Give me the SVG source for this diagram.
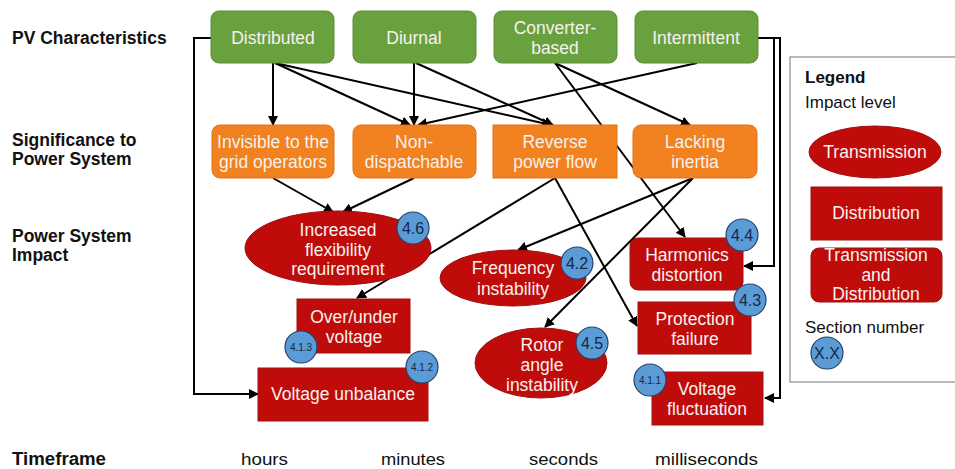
<svg xmlns="http://www.w3.org/2000/svg" width="955" height="469" viewBox="0 0 955 469">
  <defs>
    <marker id="arrow" viewBox="0 0 10 10" refX="9" refY="5" markerWidth="10" markerHeight="10" markerUnits="userSpaceOnUse" orient="auto">
      <path d="M0,0 L10,5 L0,10 z" fill="#000"/>
    </marker>
  </defs>
  <style>
    text { font-family: "Liberation Sans", Arial, sans-serif; }
    .row { font-size: 17.5px; font-weight: bold; fill: #111; }
    .time { font-size: 17px; fill: #111; }
    .nt { font-size: 17.5px; fill: #f6f2ee; text-anchor: middle; }
    .pv { fill: #6aa13f; stroke: #5b8f35; stroke-width: 1; }
    .sig { fill: #f2811f; stroke: #e07316; stroke-width: 1; }
    .imp { fill: #c00b0b; stroke: #a01010; stroke-width: 1; }
    .badge { fill: #5b9bd6; stroke: #23456e; stroke-width: 1.2; }
    .bt { fill: #16284a; text-anchor: middle; }
    .conn { fill: none; stroke: #000; stroke-width: 2; }
    .leg { font-size: 17px; fill: #111; }
  </style>

  <!-- row captions -->
  <g id="captions">
    <text class="row" x="12" y="44">PV Characteristics</text>
    <text class="row" x="12" y="146">Significance to</text>
    <text class="row" x="12" y="165">Power System</text>
    <text class="row" x="12" y="242">Power System</text>
    <text class="row" x="12" y="261">Impact</text>
    <text class="row" x="12" y="465" textLength="94" lengthAdjust="spacingAndGlyphs">Timeframe</text>
    <text class="time" x="241" y="465" textLength="47" lengthAdjust="spacingAndGlyphs">hours</text>
    <text class="time" x="381" y="465" textLength="64" lengthAdjust="spacingAndGlyphs">minutes</text>
    <text class="time" x="529" y="465" textLength="69" lengthAdjust="spacingAndGlyphs">seconds</text>
    <text class="time" x="655" y="465" textLength="103" lengthAdjust="spacingAndGlyphs">milliseconds</text>
  </g>

  <!-- connectors (drawn beneath the nodes) -->
  <g id="connectors" class="conn">
    <line x1="273" y1="63" x2="273" y2="125" marker-end="url(#arrow)"/>
    <line x1="275" y1="63" x2="410" y2="125" marker-end="url(#arrow)"/>
    <line x1="275" y1="63" x2="551" y2="125" marker-end="url(#arrow)"/>
    <line x1="414" y1="63" x2="414" y2="125" marker-end="url(#arrow)"/>
    <line x1="416" y1="63" x2="553" y2="125" marker-end="url(#arrow)"/>
    <line x1="697" y1="63" x2="418" y2="125" marker-end="url(#arrow)"/>
    <line x1="555" y1="63" x2="690" y2="125" marker-end="url(#arrow)"/>
    <line x1="555" y1="63" x2="685" y2="237" marker-end="url(#arrow)"/>
    <line x1="273" y1="178" x2="333" y2="212" marker-end="url(#arrow)"/>
    <line x1="414" y1="178" x2="343" y2="212" marker-end="url(#arrow)"/>
    <line x1="555" y1="178" x2="357" y2="298" marker-end="url(#arrow)"/>
    <line x1="555" y1="178" x2="637" y2="326" marker-end="url(#arrow)"/>
    <line x1="693" y1="178" x2="518" y2="250" marker-end="url(#arrow)"/>
    <line x1="693" y1="178" x2="545" y2="327" marker-end="url(#arrow)"/>
    <polyline points="211,38 194,38 194,394 258,394" marker-end="url(#arrow)"/>
    <polyline points="758,38 774,38 774,266 744,266" marker-end="url(#arrow)"/>
    <polyline points="758,38 780,38 780,398 765,398" marker-end="url(#arrow)"/>
  </g>

  <!-- PV characteristics -->
  <g id="distributed">
    <rect class="pv" x="211" y="11" width="123" height="52" rx="8"/>
    <text class="nt" x="273" y="44">Distributed</text>
  </g>
  <g id="diurnal">
    <rect class="pv" x="353" y="11" width="123" height="52" rx="8"/>
    <text class="nt" x="414" y="44">Diurnal</text>
  </g>
  <g id="converter-based">
    <rect class="pv" x="494" y="11" width="123" height="52" rx="8"/>
    <text class="nt" x="555" y="34">Converter-</text>
    <text class="nt" x="555" y="54">based</text>
  </g>
  <g id="intermittent">
    <rect class="pv" x="635" y="11" width="123" height="52" rx="8"/>
    <text class="nt" x="696" y="44">Intermittent</text>
  </g>

  <!-- significance to power system -->
  <g id="invisible">
    <rect class="sig" x="212" y="125" width="122" height="53" rx="8"/>
    <text class="nt" x="273" y="148">Invisible to the</text>
    <text class="nt" x="273" y="168">grid operators</text>
  </g>
  <g id="non-dispatchable">
    <rect class="sig" x="353" y="125" width="123" height="53" rx="8"/>
    <text class="nt" x="414" y="148">Non-</text>
    <text class="nt" x="414" y="168">dispatchable</text>
  </g>
  <g id="reverse-power-flow">
    <rect class="sig" x="493" y="125" width="124" height="53"/>
    <text class="nt" x="555" y="148">Reverse</text>
    <text class="nt" x="555" y="168">power flow</text>
  </g>
  <g id="lacking-inertia">
    <rect class="sig" x="633" y="125" width="124" height="53" rx="8"/>
    <text class="nt" x="695" y="148">Lacking</text>
    <text class="nt" x="695" y="168">inertia</text>
  </g>

  <!-- power system impact -->
  <g id="flexibility">
    <ellipse class="imp" cx="338" cy="248" rx="93" ry="37"/>
    <text class="nt" x="338" y="236">Increased</text>
    <text class="nt" x="338" y="256">flexibility</text>
    <text class="nt" x="338" y="275">requirement</text>
    <circle class="badge" cx="413" cy="228" r="16"/>
    <text class="bt" x="413" y="234" font-size="16">4.6</text>
  </g>
  <g id="over-under-voltage">
    <rect class="imp" x="297" y="299" width="113" height="54"/>
    <text class="nt" x="354" y="323">Over/under</text>
    <text class="nt" x="354" y="343">voltage</text>
    <circle class="badge" cx="301" cy="347" r="16"/>
    <text class="bt" x="301" y="350.5" font-size="10">4.1.3</text>
  </g>
  <g id="voltage-unbalance">
    <rect class="imp" x="258" y="368" width="170" height="53"/>
    <text class="nt" x="343" y="400">Voltage unbalance</text>
    <circle class="badge" cx="422" cy="367" r="16"/>
    <text class="bt" x="422" y="370.5" font-size="10">4.1.2</text>
  </g>
  <g id="frequency-instability">
    <ellipse class="imp" cx="513" cy="278" rx="73" ry="28"/>
    <text class="nt" x="513" y="274">Frequency</text>
    <text class="nt" x="513" y="295">instability</text>
    <circle class="badge" cx="577" cy="263" r="16"/>
    <text class="bt" x="577" y="269" font-size="16">4.2</text>
  </g>
  <g id="rotor-angle-instability">
    <ellipse class="imp" cx="541" cy="363" rx="66" ry="35"/>
    <text class="nt" x="542" y="351">Rotor</text>
    <text class="nt" x="542" y="371">angle</text>
    <text class="nt" x="542" y="391">instability</text>
    <circle class="badge" cx="592" cy="343" r="16"/>
    <text class="bt" x="592" y="349" font-size="16">4.5</text>
  </g>
  <g id="harmonics-distortion">
    <rect class="imp" x="630" y="238" width="113" height="52" rx="8"/>
    <text class="nt" x="687" y="261">Harmonics</text>
    <text class="nt" x="687" y="281">distortion</text>
    <circle class="badge" cx="742" cy="235" r="16"/>
    <text class="bt" x="742" y="241" font-size="16">4.4</text>
  </g>
  <g id="protection-failure">
    <rect class="imp" x="638" y="302" width="113" height="52"/>
    <text class="nt" x="695" y="325">Protection</text>
    <text class="nt" x="695" y="345">failure</text>
    <circle class="badge" cx="750" cy="300" r="16"/>
    <text class="bt" x="750" y="306" font-size="16">4.3</text>
  </g>
  <g id="voltage-fluctuation">
    <rect class="imp" x="652" y="372" width="111" height="53"/>
    <text class="nt" x="707" y="395">Voltage</text>
    <text class="nt" x="707" y="415">fluctuation</text>
    <circle class="badge" cx="650" cy="380" r="16"/>
    <text class="bt" x="650" y="383.5" font-size="10">4.1.1</text>
  </g>

  <!-- legend -->
  <g id="legend">
    <rect x="790" y="57" width="175" height="325" fill="#fff" stroke="#8a8a8a" stroke-width="1.2"/>
    <text class="leg" x="805" y="83" font-weight="bold">Legend</text>
    <text class="leg" x="805" y="108">Impact level</text>
    <ellipse class="imp" cx="875" cy="152" rx="66" ry="26"/>
    <text class="nt" x="875" y="158">Transmission</text>
    <rect class="imp" x="811" y="187" width="131" height="53"/>
    <text class="nt" x="876" y="219">Distribution</text>
    <rect class="imp" x="811" y="248" width="131" height="54" rx="8"/>
    <text class="nt" x="876" y="261">Transmission</text>
    <text class="nt" x="876" y="281">and</text>
    <text class="nt" x="876" y="300">Distribution</text>
    <text class="leg" x="805" y="333">Section number</text>
    <circle class="badge" cx="827" cy="353" r="16"/>
    <text class="bt" x="827" y="359" font-size="16">X.X</text>
  </g>
</svg>
